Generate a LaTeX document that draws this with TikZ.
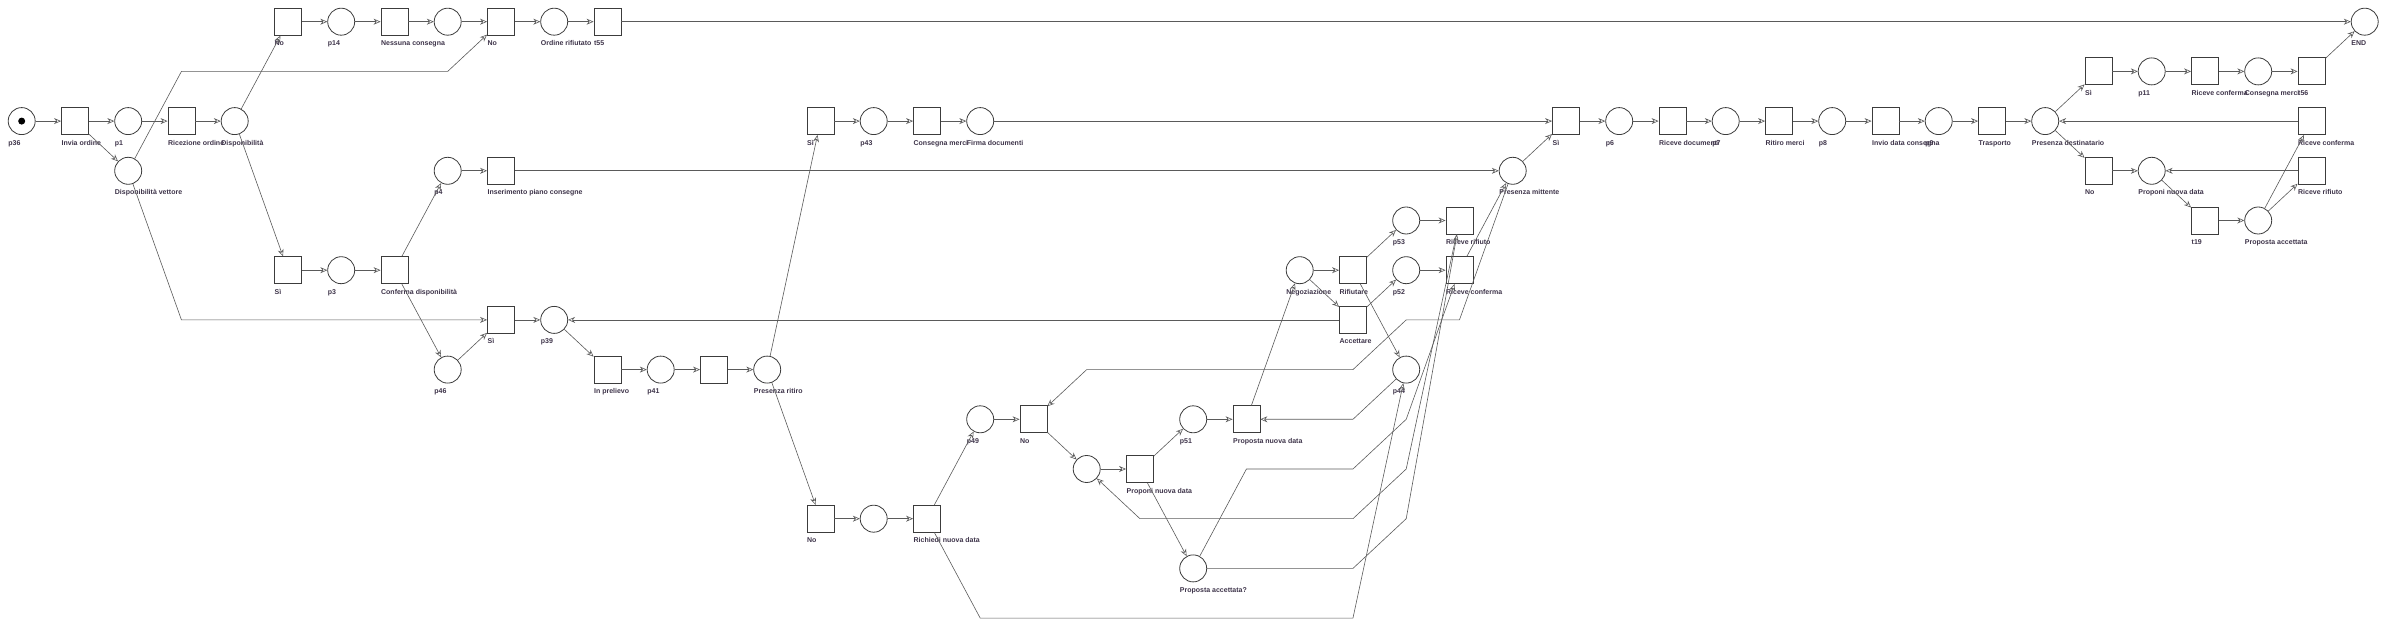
\documentclass[tikz,border=0pt]{standalone}
\usepackage{fontspec}
\setmainfont{Liberation Sans}
\usetikzlibrary{arrows.meta, petri}
\definecolor{edgecol}{HTML}{5A5A5A}
\definecolor{nodecol}{HTML}{3C3C3C}
\definecolor{txtcol}{HTML}{3D3349}
\tikzset{
  every place/.style={draw=nodecol, fill=white, line width=0.8pt, minimum size=27pt},
  every transition/.style={draw=nodecol, fill=white, line width=0.8pt, minimum size=27pt},
  every token/.style={minimum size=7pt, fill=black},
  lbl/.style={anchor=north west, inner sep=0pt, xshift=-13.5pt, yshift=-5pt, text=txtcol, font=\bfseries\fontsize{7}{8}\selectfont, text height=5pt, text depth=1.5pt},
  nm/.style={label={[lbl]below:#1}},
  arc/.style={draw=edgecol, line width=0.6pt, -{Stealth[open, length=7pt, width=6pt]}}
}
\begin{document}
\begin{tikzpicture}[x=53.25pt, y=-49.7pt]
\useasboundingbox (-0.4075,-0.4366) rectangle (44.4,12.32);
% ordine
\node[place, tokens=1, nm=p36] (p36) at (0,2) {};
\node[transition, nm=Invia ordine] (invia) at (1,2) {};
\node[place, nm=p1] (p1) at (2,2) {};
\node[transition, nm=Ricezione ordine] (ricez) at (3,2) {};
\node[place, nm=Disponibilità] (disp) at (4,2) {};
\node[place, nm=Disponibilità vettore] (dispvett) at (2,3) {};
\node[transition, nm=No] (no1) at (5,0) {};
\node[place, nm=p14] (p14) at (6,0) {};
\node[transition, nm=Nessuna consegna] (nessuna) at (7,0) {};
\node[place] (p15) at (8,0) {};
\node[transition, nm=No] (no2) at (9,0) {};
\node[place, nm=Ordine rifiutato] (rifiut) at (10,0) {};
\node[transition, nm=t55] (t55) at (11,0) {};
\node[place, nm=END] (fine) at (44,0) {};
\node[transition, nm=Sì] (si1) at (5,5) {};
\node[place, nm=p3] (p3) at (6,5) {};
\node[transition, nm=Conferma disponibilità] (confdisp) at (7,5) {};
\node[place, nm=p4] (p4) at (8,3) {};
\node[transition, nm=Inserimento piano consegne] (inser) at (9,3) {};
\node[place, nm=p46] (p46) at (8,7) {};
\node[transition, nm=Sì] (si5) at (9,6) {};
\node[place, nm=p39] (p39) at (10,6) {};
\node[transition, nm=In prelievo] (prelievo) at (11,7) {};
\node[place, nm=p41] (p41) at (12,7) {};
\node[transition] (t40) at (13,7) {};
\node[place, nm=Presenza ritiro] (presrit) at (14,7) {};
% ritiro
\node[transition, nm=Sì] (si2) at (15,2) {};
\node[place, nm=p43] (p43) at (16,2) {};
\node[transition, nm=Consegna merci] (consmerci) at (17,2) {};
\node[place, nm=Firma documenti] (firma) at (18,2) {};
\node[transition, nm=No] (no4) at (15,10) {};
\node[place] (p48) at (16,10) {};
\node[transition, nm=Richiedi nuova data] (richiedi) at (17,10) {};
\node[place, nm=p49] (p49) at (18,8) {};
\node[transition, nm=No] (no3) at (19,8) {};
\node[place] (p50) at (20,9) {};
\node[transition, nm=Proponi nuova data] (propdata) at (21,9) {};
\node[place, nm=p51] (p51) at (22,8) {};
\node[place, nm=Proposta accettata?] (propacc) at (22,11) {};
\node[transition, nm=Proposta nuova data] (propnuova) at (23,8) {};
\node[place, nm=Negoziazione] (negoz) at (24,5) {};
\node[transition, nm=Rifiutare] (rifiutare) at (25,5) {};
\node[transition, nm=Accettare] (accett) at (25,6) {};
\node[place, nm=p53] (p53) at (26,4) {};
\node[place, nm=p52] (p52) at (26,5) {};
\node[place, nm=p44] (p44) at (26,7) {};
\node[transition, nm=Riceve rifiuto] (ricrif) at (27,4) {};
\node[transition, nm=Riceve conferma] (ricconf) at (27,5) {};
\node[place, nm=Presenza mittente] (presmitt) at (28,3) {};
% consegna
\node[transition, nm=Sì] (si3) at (29,2) {};
\node[place, nm=p6] (p6) at (30,2) {};
\node[transition, nm=Riceve documenti] (ricdoc) at (31,2) {};
\node[place, nm=p7] (p7) at (32,2) {};
\node[transition, nm=Ritiro merci] (ritiro) at (33,2) {};
\node[place, nm=p8] (p8) at (34,2) {};
\node[transition, nm=Invio data consegna] (inviodata) at (35,2) {};
\node[place, nm=p9] (p9) at (36,2) {};
\node[transition, nm=Trasporto] (trasp) at (37,2) {};
\node[place, nm=Presenza destinatario] (presdest) at (38,2) {};
\node[transition, nm=Sì] (si4) at (39,1) {};
\node[place, nm=p11] (p11) at (40,1) {};
\node[transition, nm=Riceve conferma] (ricconf2) at (41,1) {};
\node[place, nm=Consegna merci] (consmerci2) at (42,1) {};
\node[transition, nm=t56] (t56) at (43,1) {};
\node[transition, nm=No] (no5) at (39,3) {};
\node[place, nm=Proponi nuova data] (propdata2) at (40,3) {};
\node[transition, nm=t19] (t19) at (41,4) {};
\node[place, nm=Proposta accettata] (propacc2) at (42,4) {};
\node[transition, nm=Riceve conferma] (ricconf3) at (43,2) {};
\node[transition, nm=Riceve rifiuto] (ricrif2) at (43,3) {};

\draw[arc] (p36) -- (invia);
\draw[arc] (invia) -- (p1);
\draw[arc] (p1) -- (ricez);
\draw[arc] (ricez) -- (disp);
\draw[arc] (invia) -- (dispvett);
\draw[arc] (disp) -- (no1);
\draw[arc] (no1) -- (p14);
\draw[arc] (p14) -- (nessuna);
\draw[arc] (nessuna) -- (p15);
\draw[arc] (p15) -- (no2);
\draw[arc] (no2) -- (rifiut);
\draw[arc] (rifiut) -- (t55);
\draw[arc] (t55) -- (fine);
\draw[arc] (dispvett) -- (3,1) -- (8,1) -- (no2);
\draw[arc] (dispvett) -- (3,6) -- (si5);
\draw[arc] (disp) -- (si1);
\draw[arc] (si1) -- (p3);
\draw[arc] (p3) -- (confdisp);
\draw[arc] (confdisp) -- (p4);
\draw[arc] (p4) -- (inser);
\draw[arc] (inser) -- (presmitt);
\draw[arc] (confdisp) -- (p46);
\draw[arc] (p46) -- (si5);
\draw[arc] (si5) -- (p39);
\draw[arc] (p39) -- (prelievo);
\draw[arc] (prelievo) -- (p41);
\draw[arc] (p41) -- (t40);
\draw[arc] (t40) -- (presrit);
\draw[arc] (presrit) -- (si2);
\draw[arc] (presrit) -- (no4);
\draw[arc] (si2) -- (p43);
\draw[arc] (p43) -- (consmerci);
\draw[arc] (consmerci) -- (firma);
\draw[arc] (firma) -- (si3);
\draw[arc] (no4) -- (p48);
\draw[arc] (p48) -- (richiedi);
\draw[arc] (richiedi) -- (p49);
\draw[arc] (p49) -- (no3);
\draw[arc] (no3) -- (p50);
\draw[arc] (p50) -- (propdata);
\draw[arc] (propdata) -- (p51);
\draw[arc] (propdata) -- (propacc);
\draw[arc] (p51) -- (propnuova);
\draw[arc] (propnuova) -- (negoz);
\draw[arc] (negoz) -- (rifiutare);
\draw[arc] (negoz) -- (accett);
\draw[arc] (rifiutare) -- (p53);
\draw[arc] (rifiutare) -- (p44);
\draw[arc] (accett) -- (p52);
\draw[arc] (accett) -- (p39);
\draw[arc] (p53) -- (ricrif);
\draw[arc] (p52) -- (ricconf);
\draw[arc] (ricconf) -- (presmitt);
\draw[arc] (p44) -- (25,8) -- (propnuova);
\draw[arc] (richiedi) -- (18,12) -- (25,12) -- (p44);
\draw[arc] (presmitt) -- (27,6) -- (26,6) -- (25,7) -- (20,7) -- (no3);
\draw[arc] (propacc) -- (23,9) -- (25,9) -- (26,8) -- (ricconf);
\draw[arc] (propacc) -- (25,11) -- (26,10) -- (ricrif);
\draw[arc] (ricrif) -- (26,9) -- (25,10) -- (21,10) -- (p50);
\draw[arc] (presmitt) -- (si3);
\draw[arc] (si3) -- (p6);
\draw[arc] (p6) -- (ricdoc);
\draw[arc] (ricdoc) -- (p7);
\draw[arc] (p7) -- (ritiro);
\draw[arc] (ritiro) -- (p8);
\draw[arc] (p8) -- (inviodata);
\draw[arc] (inviodata) -- (p9);
\draw[arc] (p9) -- (trasp);
\draw[arc] (trasp) -- (presdest);
\draw[arc] (presdest) -- (si4);
\draw[arc] (si4) -- (p11);
\draw[arc] (p11) -- (ricconf2);
\draw[arc] (ricconf2) -- (consmerci2);
\draw[arc] (consmerci2) -- (t56);
\draw[arc] (t56) -- (fine);
\draw[arc] (presdest) -- (no5);
\draw[arc] (no5) -- (propdata2);
\draw[arc] (propdata2) -- (t19);
\draw[arc] (t19) -- (propacc2);
\draw[arc] (propacc2) -- (ricconf3);
\draw[arc] (propacc2) -- (ricrif2);
\draw[arc] (ricconf3) -- (presdest);
\draw[arc] (ricrif2) -- (propdata2);
\end{tikzpicture}
\end{document}
